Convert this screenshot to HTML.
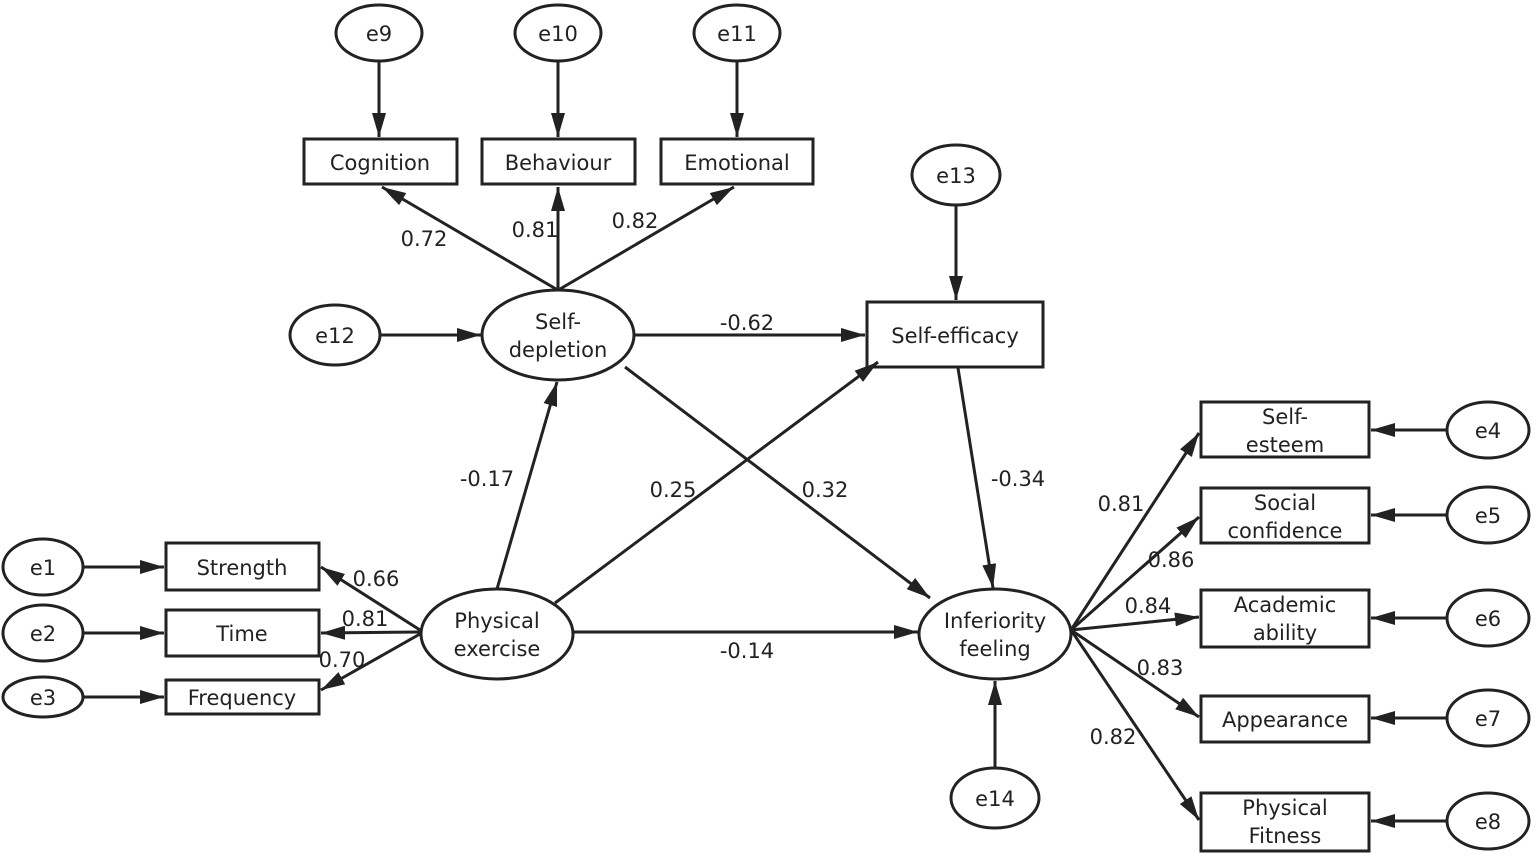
<!DOCTYPE html>
<html><head><meta charset="utf-8"><style>body{margin:0;background:#fff}svg{display:block}text{font-family:"DejaVu Sans","Liberation Sans",sans-serif;font-size:21px;fill:#222}</style></head><body>
<svg width="1535" height="855" viewBox="0 0 1535 855">
<defs><marker id="a" viewBox="0 0 10 10" refX="10" refY="5" markerWidth="8" markerHeight="8" markerUnits="userSpaceOnUse" orient="auto"><path d="M0,0L10,5L0,10z" fill="#222"/></marker>
<marker id="b" viewBox="0 0 10 10" refX="10" refY="5" markerWidth="24" markerHeight="14" markerUnits="userSpaceOnUse" orient="auto" preserveAspectRatio="none"><path d="M0,0L10,5L0,10z" fill="#222"/></marker></defs>
<g fill="#fff" stroke="#222" stroke-width="3">
<ellipse cx="379" cy="33" rx="43" ry="28"/><ellipse cx="558" cy="33" rx="43" ry="28"/><ellipse cx="737" cy="33" rx="43" ry="28"/>
<rect x="304" y="139" width="153" height="45"/><rect x="482" y="139" width="153" height="45"/><rect x="661" y="139" width="152" height="45"/>
<ellipse cx="558" cy="335" rx="76" ry="45"/><ellipse cx="335" cy="335" rx="45" ry="30"/>
<ellipse cx="956" cy="175" rx="44" ry="30"/><rect x="867" y="302" width="176" height="65"/>
<ellipse cx="497" cy="634" rx="76" ry="45"/><ellipse cx="995" cy="634" rx="76" ry="45"/>
<ellipse cx="995" cy="798" rx="44" ry="30"/>
<rect x="166" y="543" width="153" height="47"/><rect x="166" y="610" width="153" height="46"/><rect x="166" y="680" width="153" height="34"/>
<ellipse cx="43" cy="567" rx="40" ry="28"/><ellipse cx="43" cy="633" rx="40" ry="28"/><ellipse cx="43" cy="697" rx="40" ry="20"/>
<rect x="1201" y="402" width="168" height="55"/><rect x="1201" y="488" width="168" height="55"/><rect x="1201" y="590" width="168" height="57"/><rect x="1201" y="696" width="168" height="46"/><rect x="1201" y="793" width="168" height="58"/>
<ellipse cx="1488" cy="430" rx="41" ry="28"/><ellipse cx="1488" cy="515" rx="41" ry="28"/><ellipse cx="1488" cy="618" rx="41" ry="28"/><ellipse cx="1488" cy="718" rx="41" ry="28"/><ellipse cx="1488" cy="821" rx="41" ry="28"/>
</g>
<g stroke="#222" stroke-width="3" fill="none" marker-end="url(#b)">
<line x1="379" y1="61" x2="379" y2="137"/><line x1="558" y1="61" x2="558" y2="137"/><line x1="737" y1="61" x2="737" y2="137"/>
<line x1="556" y1="289" x2="382" y2="187"/><line x1="558" y1="289" x2="558" y2="187"/><line x1="560" y1="289" x2="734" y2="187"/>
<line x1="380" y1="335" x2="481" y2="335"/>
<line x1="634" y1="335" x2="865" y2="335"/>
<line x1="625" y1="367" x2="930" y2="598"/>
<line x1="497" y1="589" x2="557" y2="382"/>
<line x1="555" y1="603" x2="878" y2="362"/>
<line x1="573" y1="632" x2="918" y2="632"/>
<line x1="956" y1="205" x2="956" y2="300"/>
<line x1="958" y1="368" x2="993" y2="588"/>
<line x1="995" y1="768" x2="995" y2="681"/>
<line x1="420" y1="630" x2="321" y2="567"/><line x1="420" y1="632" x2="321" y2="633"/><line x1="420" y1="634" x2="321" y2="690"/>
<line x1="83" y1="567" x2="164" y2="567"/><line x1="83" y1="633" x2="164" y2="633"/><line x1="83" y1="697" x2="164" y2="697"/>
<line x1="1071" y1="630" x2="1199" y2="433"/><line x1="1071" y1="630" x2="1199" y2="517"/><line x1="1071" y1="630" x2="1199" y2="617"/><line x1="1071" y1="630" x2="1199" y2="717"/><line x1="1071" y1="630" x2="1199" y2="820"/>
<line x1="1447" y1="430" x2="1371" y2="430"/><line x1="1447" y1="515" x2="1371" y2="515"/><line x1="1447" y1="618" x2="1371" y2="618"/><line x1="1447" y1="718" x2="1371" y2="718"/><line x1="1447" y1="821" x2="1371" y2="821"/>
</g>
<g text-anchor="middle">
<text x="379" y="41">e9</text><text x="558" y="41">e10</text><text x="737" y="41">e11</text>
<text x="380" y="170">Cognition</text><text x="558" y="170">Behaviour</text><text x="737" y="170">Emotional</text>
<text x="558" y="329">Self-</text><text x="558" y="357">depletion</text><text x="335" y="343">e12</text>
<text x="956" y="183">e13</text><text x="955" y="343">Self-efficacy</text>
<text x="497" y="628">Physical</text><text x="497" y="656">exercise</text>
<text x="995" y="628">Inferiority</text><text x="995" y="656">feeling</text>
<text x="995" y="806">e14</text>
<text x="242" y="575">Strength</text><text x="242" y="641">Time</text><text x="242" y="705">Frequency</text>
<text x="43" y="575">e1</text><text x="43" y="641">e2</text><text x="43" y="705">e3</text>
<text x="1285" y="424">Self-</text><text x="1285" y="452">esteem</text>
<text x="1285" y="510">Social</text><text x="1285" y="538">confidence</text>
<text x="1285" y="612">Academic</text><text x="1285" y="640">ability</text>
<text x="1285" y="727">Appearance</text>
<text x="1285" y="815">Physical</text><text x="1285" y="843">Fitness</text>
<text x="1488" y="438">e4</text><text x="1488" y="523">e5</text><text x="1488" y="626">e6</text><text x="1488" y="726">e7</text><text x="1488" y="829">e8</text>
<text x="424" y="246">0.72</text><text x="535" y="237">0.81</text><text x="635" y="228">0.82</text>
<text x="747" y="330">-0.62</text><text x="487" y="486">-0.17</text><text x="673" y="497">0.25</text><text x="825" y="497">0.32</text>
<text x="1018" y="486">-0.34</text><text x="747" y="658">-0.14</text>
<text x="376" y="586">0.66</text><text x="365" y="626">0.81</text><text x="342" y="667">0.70</text>
<text x="1121" y="511">0.81</text><text x="1171" y="567">0.86</text><text x="1148" y="613">0.84</text><text x="1160" y="675">0.83</text><text x="1113" y="744">0.82</text>
</g>
</svg></body></html>
